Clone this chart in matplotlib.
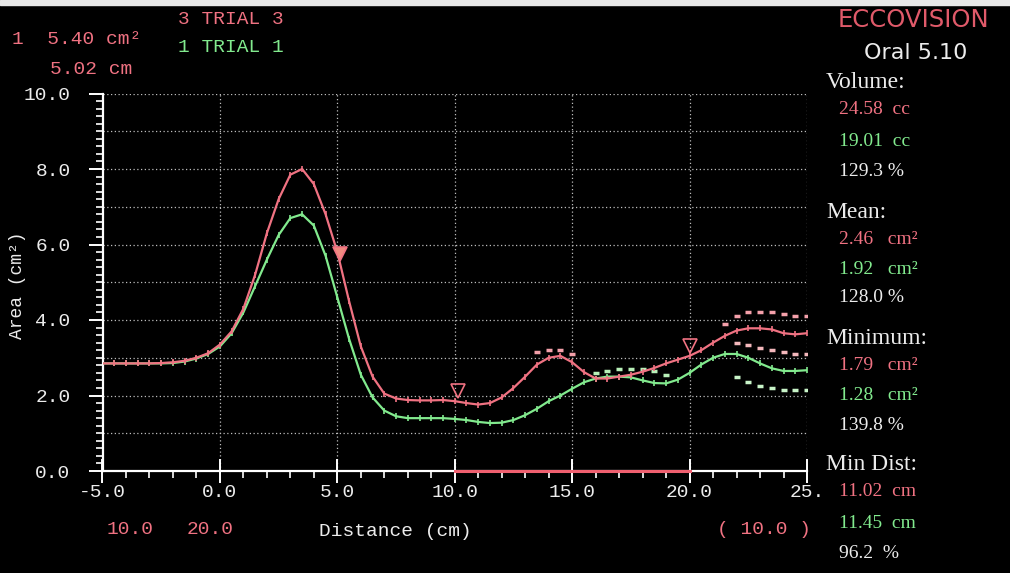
import numpy as np
import matplotlib
matplotlib.use("Agg")
import matplotlib.pyplot as plt
from matplotlib.ticker import MultipleLocator, FixedLocator

# distance (cm) sampled every 0.5 cm
dist = [-5.0, -4.5, -4.0, -3.5, -3.0, -2.5, -2.0, -1.5, -1.0, -0.5,
        0.0, 0.5, 1.0, 1.5, 2.0, 2.5, 3.0, 3.5, 4.0, 4.5,
        5.0, 5.5, 6.0, 6.5, 7.0, 7.5, 8.0, 8.5, 9.0, 9.5,
        10.0, 10.5, 11.0, 11.5, 12.0, 12.5, 13.0, 13.5, 14.0, 14.5,
        15.0, 15.5, 16.0, 16.5, 17.0, 17.5, 18.0, 18.5, 19.0, 19.5,
        20.0, 20.5, 21.0, 21.5, 22.0, 22.5, 23.0, 23.5, 24.0, 24.5, 25.0]

# area (cm2), trial 3 (red)
trial3 = [2.85, 2.85, 2.85, 2.85, 2.85, 2.86, 2.88, 2.92, 3.00, 3.12,
          3.35, 3.70, 4.30, 5.20, 6.30, 7.20, 7.85, 8.00, 7.60, 6.80,
          5.80, 4.50, 3.30, 2.50, 2.05, 1.92, 1.88, 1.87, 1.87, 1.88,
          1.85, 1.80, 1.76, 1.80, 1.95, 2.20, 2.50, 2.82, 3.00, 3.05,
          2.88, 2.62, 2.45, 2.45, 2.50, 2.55, 2.63, 2.73, 2.85, 2.95,
          3.05, 3.20, 3.40, 3.58, 3.72, 3.78, 3.78, 3.75, 3.65, 3.62, 3.65]

# area (cm2), trial 1 (green)
trial1 = [2.85, 2.85, 2.85, 2.85, 2.85, 2.85, 2.86, 2.90, 2.98, 3.10,
          3.30, 3.65, 4.20, 4.90, 5.60, 6.25, 6.70, 6.80, 6.50, 5.70,
          4.60, 3.50, 2.55, 1.95, 1.60, 1.45, 1.40, 1.40, 1.40, 1.40,
          1.38, 1.35, 1.30, 1.27, 1.28, 1.35, 1.48, 1.65, 1.85, 2.00,
          2.18, 2.35, 2.45, 2.50, 2.50, 2.48, 2.40, 2.33, 2.32, 2.42,
          2.60, 2.82, 3.00, 3.10, 3.10, 3.00, 2.85, 2.72, 2.65, 2.65, 2.67]

# spread dashes around the curves
red_hi_x = [13.5, 14.0, 14.5, 15.0, 21.5, 22.0, 22.5, 23.0, 23.5, 24.0, 24.5, 25.0]
red_hi_y = [3.15, 3.20, 3.20, 3.10, 3.90, 4.10, 4.20, 4.20, 4.20, 4.15, 4.10, 4.10]
red_lo_x = [22.0, 22.5, 23.0, 23.5, 24.0, 24.5, 25.0]
red_lo_y = [3.40, 3.35, 3.25, 3.20, 3.15, 3.10, 3.10]
grn_hi_x = [16.0, 16.5, 17.0, 17.5, 18.0, 18.5, 19.0]
grn_hi_y = [2.60, 2.65, 2.70, 2.70, 2.70, 2.65, 2.55]
grn_lo_x = [22.0, 22.5, 23.0, 23.5, 24.0, 24.5, 25.0]
grn_lo_y = [2.50, 2.35, 2.25, 2.20, 2.15, 2.15, 2.15]

# cursor markers (inverted triangles)
cursor_x = [5.1, 10.15, 20.0]
cursor_y = [5.75, 2.12, 3.32]

highlight = [10.0, 20.0]

x_tick_vals = [-5, 0, 5, 10, 15, 20, 25]
x_tick_labels = ["-5.0", "0.0", "5.0", "10.0", "15.0", "20.0", "25."]

RED = "#f07282"
GREEN = "#82ea8e"
WHITE = "#ececec"
MONO = "Liberation Mono"
SERIF = "Liberation Serif"

W, H = 1010, 573
fig = plt.figure(figsize=(W / 100, H / 100), dpi=100, facecolor="black")
ax = fig.add_axes([102.5 / W, 1 - 471 / H, (807 - 102.5) / W, (471 - 93.5) / H])
ax.set_facecolor("black")

# thin white strip at top of screen grab
fig.patches.append(plt.Rectangle((0, 1 - 5 / H), 1, 5 / H, transform=fig.transFigure,
                                 color="#e8e8e8", zorder=0))

ax.set_xlim(-5, 25)
ax.set_ylim(0, 10)

# dotted grid
for gy in np.arange(1, 10.5, 1):
    ax.axhline(gy, color="#bdbdbd", lw=0.9, ls=(0, (1, 2)), zorder=1)
for gx in np.arange(0, 25.5, 5):
    ax.axvline(gx, color="#bdbdbd", lw=0.9, ls=(0, (1, 2)), zorder=1)

for s in ["top", "right"]:
    ax.spines[s].set_visible(False)
for s in ["left", "bottom"]:
    ax.spines[s].set_color("white")
    ax.spines[s].set_linewidth(1.6)

ax.xaxis.set_major_locator(FixedLocator(x_tick_vals))
ax.set_xticklabels(x_tick_labels)
ax.xaxis.set_minor_locator(MultipleLocator(1))
ax.yaxis.set_major_locator(MultipleLocator(2))
ax.yaxis.set_major_formatter("{x:.1f}")
ax.yaxis.set_minor_locator(MultipleLocator(0.2))

ax.tick_params(axis="x", which="major", direction="inout", length=17, width=1.4,
               color="white", labelcolor=WHITE, labelsize=14, pad=1)
ax.tick_params(axis="x", which="minor", direction="out", length=5, width=1.2, color="white")
ax.tick_params(axis="y", which="major", direction="out", length=10, width=1.4,
               color="white", labelcolor=WHITE, labelsize=14, pad=13)
ax.tick_params(axis="y", which="minor", direction="out", length=5, width=1.2, color="white")
for lab in ax.get_xticklabels() + ax.get_yticklabels():
    lab.set_family(MONO)

# red range on the distance axis
ax.plot(highlight, [0, 0], color="#f06070", lw=2.2, clip_on=False, zorder=5)

# spread dashes
ax.plot(red_hi_x, red_hi_y, ls="none", marker="_", ms=4, mew=2.5, color="#f4a0aa", zorder=3)
ax.plot(red_lo_x, red_lo_y, ls="none", marker="_", ms=4, mew=2.5, color="#f4b8bc", zorder=3)
ax.plot(grn_hi_x, grn_hi_y, ls="none", marker="_", ms=4, mew=2.5, color="#b8f0b8", zorder=3)
ax.plot(grn_lo_x, grn_lo_y, ls="none", marker="_", ms=4, mew=2.5, color="#c8f4c8", zorder=3)

# curves
ax.plot(dist, trial1, color=GREEN, lw=1.6, marker="|", ms=5, mew=1.2, zorder=4)
ax.plot(dist, trial3, color=RED, lw=1.6, marker="|", ms=5, mew=1.2, zorder=4)

ax.plot(cursor_x[:1], cursor_y[:1], ls="none", marker="v", ms=10, mfc="#f08a80",
        mec=RED, mew=1.2, zorder=6)
ax.plot(cursor_x[1:], cursor_y[1:], ls="none", marker="v", ms=10, mfc="none",
        mec=RED, mew=1.2, zorder=6)


def ftext(px, py, s, **kw):
    fig.text(px / W, 1 - py / H, s, va="center", **kw)


# top-left readouts
ftext(12, 40, "1  5.40 cm\u00b2", color=RED, family=MONO, fontsize=14)
ftext(50, 70, "5.02 cm", color=RED, family=MONO, fontsize=14)
ftext(178, 20, "3 TRIAL 3", color=RED, family=MONO, fontsize=14)
ftext(178, 47, "1 TRIAL 1", color=GREEN, family=MONO, fontsize=14)

# axis captions
ftext(18, 285, "Area (cm\u00b2)", color=WHITE, family=MONO, fontsize=13,
      rotation=90, ha="center")
ftext(395, 532, "Distance (cm)", color=WHITE, family=MONO, fontsize=14, ha="center")
ftext(130, 530, "10.0", color=RED, family=MONO, fontsize=14, ha="center")
ftext(210, 530, "20.0", color=RED, family=MONO, fontsize=14, ha="center")
ftext(764, 530, "( 10.0 )", color=RED, family=MONO, fontsize=14, ha="center")

# right-hand panel
ftext(913, 20, "ECCOVISION", color="#e05a6a", family="DejaVu Sans", fontsize=17.5,
      ha="center")
ftext(916, 53, "Oral 5.10", color=WHITE, family="DejaVu Sans", fontsize=16, ha="center")

panel = [
    (82, "Volume:", WHITE, True),
    (110, "24.58  cc", RED, False),
    (142, "19.01  cc", GREEN, False),
    (172, "129.3 %", WHITE, False),
    (212, "Mean:", WHITE, True),
    (240, "2.46   cm\u00b2", RED, False),
    (270, "1.92   cm\u00b2", GREEN, False),
    (298, "128.0 %", WHITE, False),
    (338, "Minimum:", WHITE, True),
    (365, "1.79   cm\u00b2", RED, False),
    (395, "1.28   cm\u00b2", GREEN, False),
    (425, "139.8 %", WHITE, False),
    (465, "Min Dist:", WHITE, True),
    (492, "11.02  cm", RED, False),
    (523, "11.45  cm", GREEN, False),
    (553, "96.2  %", WHITE, False),
]
for py, s, c, head in panel:
    if head:
        ftext(826, py, s, color=c, family=SERIF, fontsize=17)
    else:
        ftext(839, py, s, color=c, family=SERIF, fontsize=14)

fig.savefig("out.png", dpi=100, facecolor="black")
